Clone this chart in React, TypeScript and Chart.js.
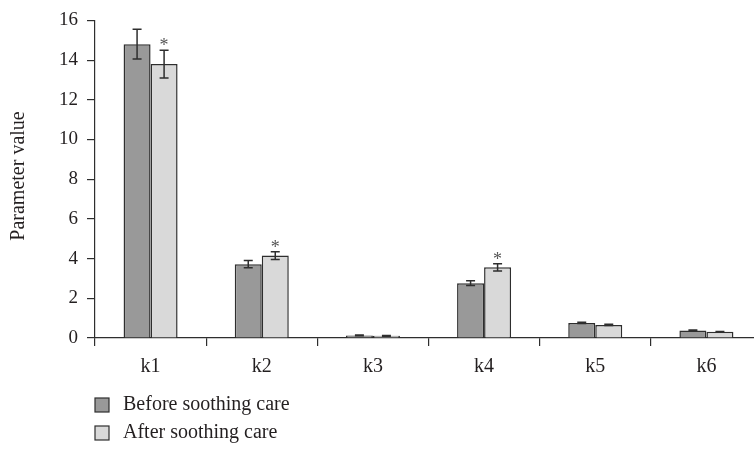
import React, { useEffect, useRef } from "react";
import { Chart, registerables } from "chart.js";

Chart.register(...registerables);

const categories = ["k1", "k2", "k3", "k4", "k5", "k6"];
const seriesNames = ["Before soothing care", "After soothing care"];
const beforeValues = [14.8, 3.72, 0.13, 2.76, 0.76, 0.38];
const afterValues = [13.8, 4.15, 0.11, 3.56, 0.66, 0.31];
const beforeErrors = [0.75, 0.18, 0.02, 0.12, 0.03, 0.02];
const afterErrors = [0.7, 0.2, 0.02, 0.18, 0.03, 0.02];
const afterSignificant = [true, true, false, true, false, false];
const yTicks = [0, 2, 4, 6, 8, 10, 12, 14, 16];
const yTitle = "Parameter value";

const FONT = "'Liberation Serif', 'Times New Roman', serif";
const TEXT = "#231f20";
const LINE = "#2e2e2e";
const DARK = "#999999";
const LIGHT = "#d9d9d9";

const errorPlugin = {
  id: "errorBars",
  afterDatasetsDraw(chart: any) {
    const ctx = chart.ctx;
    const y = chart.scales.y;
    const errs = [beforeErrors, afterErrors];
    chart.data.datasets.forEach((ds: any, di: number) => {
      const meta = chart.getDatasetMeta(di);
      meta.data.forEach((bar: any, i: number) => {
        const v = ds.data[i];
        const e = errs[di][i];
        const top = y.getPixelForValue(v + e);
        const bot = y.getPixelForValue(v - e);
        const x = bar.x;
        ctx.save();
        ctx.strokeStyle = LINE;
        ctx.lineWidth = 1.5;
        ctx.beginPath();
        ctx.moveTo(x, top);
        ctx.lineTo(x, bot);
        ctx.moveTo(x - 4.5, top);
        ctx.lineTo(x + 4.5, top);
        ctx.moveTo(x - 4.5, bot);
        ctx.lineTo(x + 4.5, bot);
        ctx.stroke();
        if (di === 1 && afterSignificant[i]) {
          ctx.fillStyle = "#555";
          ctx.font = `18px ${FONT}`;
          ctx.textAlign = "center";
          ctx.textBaseline = "alphabetic";
          ctx.fillText("*", x, top + 1);
        }
        ctx.restore();
      });
    });
  },
  afterDraw(chart: any) {
    const ctx = chart.ctx;
    ctx.save();
    ctx.fillStyle = TEXT;
    ctx.font = `20px ${FONT}`;
    ctx.translate(19, 176);
    ctx.rotate(-Math.PI / 2);
    ctx.textAlign = "center";
    ctx.textBaseline = "middle";
    ctx.fillText(yTitle, 0, 0);
    ctx.restore();
    ctx.save();
    chart.data.datasets.forEach((ds: any, i: number) => {
      const top = 398 + i * 28;
      ctx.fillStyle = ds.backgroundColor;
      ctx.fillRect(95, top, 14, 14);
      ctx.strokeStyle = LINE;
      ctx.lineWidth = 1.2;
      ctx.strokeRect(95, top, 14, 14);
      ctx.fillStyle = TEXT;
      ctx.font = `20px ${FONT}`;
      ctx.textAlign = "left";
      ctx.textBaseline = "middle";
      ctx.fillText(ds.label, 123, top + 7);
    });
    ctx.restore();
  },
};

export default function App() {
  const ref = useRef<HTMLCanvasElement>(null);
  useEffect(() => {
    if (!ref.current) return;
    const chart = new Chart(ref.current, {
      type: "bar",
      data: {
        labels: categories,
        datasets: [
          {
            label: seriesNames[0],
            data: beforeValues,
            backgroundColor: DARK,
            borderColor: LINE,
            borderWidth: 1.5,
          },
          {
            label: seriesNames[1],
            data: afterValues,
            backgroundColor: LIGHT,
            borderColor: LINE,
            borderWidth: 1.5,
          },
        ],
      },
      options: {
        responsive: false,
        animation: false,
        layout: { padding: { top: 15, left: 0, right: 0, bottom: 0 } },
        datasets: { bar: { categoryPercentage: 0.486, barPercentage: 1 } },
        plugins: { legend: { display: false }, tooltip: { enabled: false } },
        scales: {
          x: {
            offset: true,
            grid: {
              offset: true,
              drawOnChartArea: false,
              drawTicks: true,
              tickLength: 8,
              color: LINE,
              lineWidth: 1.2,
            },
            border: { display: true, color: LINE, width: 1.2 },
            ticks: {
              padding: 9,
              color: TEXT,
              font: { family: FONT, size: 20 },
            },
            afterFit(scale: any) {
              scale.height = 111;
            },
          },
          y: {
            min: 0,
            max: 16,
            afterBuildTicks(scale: any) {
              scale.ticks = yTicks.map((v) => ({ value: v }));
            },
            grid: {
              drawOnChartArea: false,
              drawTicks: true,
              tickLength: 8,
              color: LINE,
              lineWidth: 1.2,
            },
            border: { display: true, color: LINE, width: 1.2 },
            ticks: {
              padding: 9,
              color: TEXT,
              font: { family: FONT, size: 19 },
            },
            afterFit(scale: any) {
              scale.width = 95;
            },
          },
        },
      },
      plugins: [errorPlugin],
    });
    return () => chart.destroy();
  }, []);
  return (
    <div
      style={{
        position: "fixed",
        left: 0,
        top: 0,
        width: 754,
        height: 449,
        overflow: "hidden",
        background: "#fff",
      }}
    >
      <canvas ref={ref} width={762} height={449} style={{ display: "block", width: 762, height: 449 }} />
    </div>
  );
}
